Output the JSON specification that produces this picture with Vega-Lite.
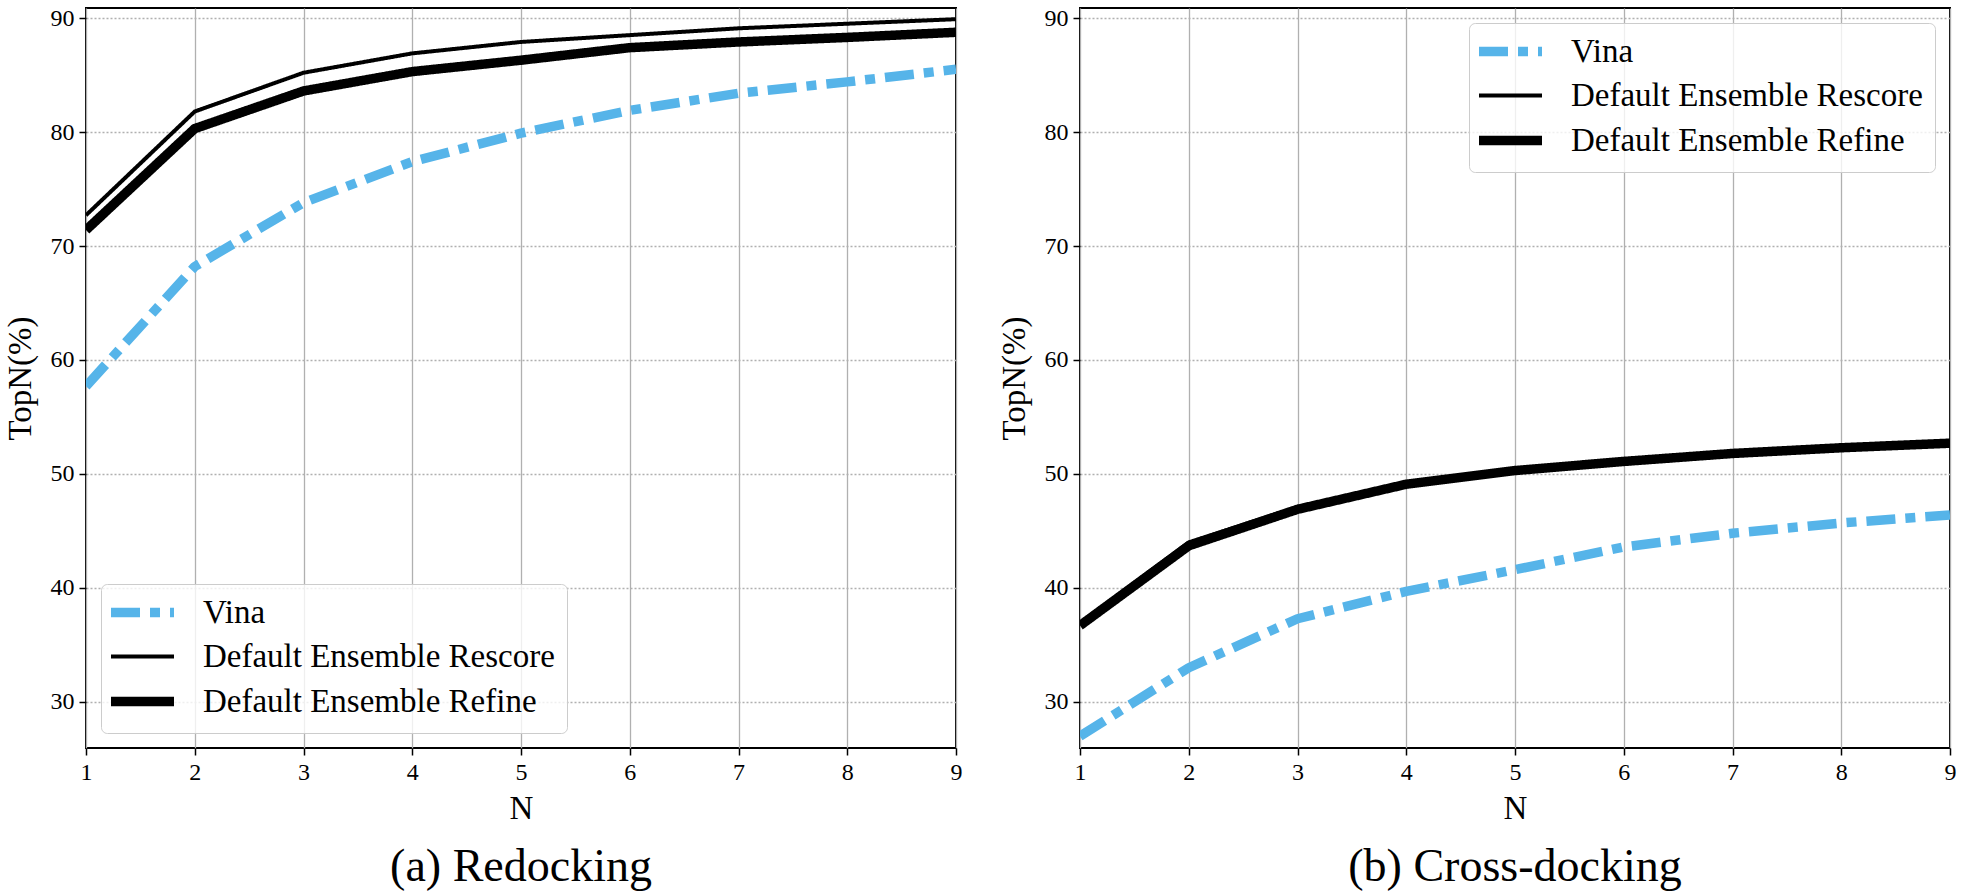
{
  "$schema": "https://vega.github.io/schema/vega-lite/v6.json",
  "padding": {"left": 3, "top": 5, "right": 10, "bottom": 0},
  "background": "white",
  "datasets": {
    "redock": [
      {"N": 1, "method": "Vina", "value": 57.7},
      {"N": 2, "method": "Vina", "value": 68.2},
      {"N": 3, "method": "Vina", "value": 73.8},
      {"N": 4, "method": "Vina", "value": 77.4},
      {"N": 5, "method": "Vina", "value": 79.9},
      {"N": 6, "method": "Vina", "value": 81.9},
      {"N": 7, "method": "Vina", "value": 83.4},
      {"N": 8, "method": "Vina", "value": 84.4},
      {"N": 9, "method": "Vina", "value": 85.5},
      {"N": 1, "method": "Default Ensemble Rescore", "value": 72.7},
      {"N": 2, "method": "Default Ensemble Rescore", "value": 81.8},
      {"N": 3, "method": "Default Ensemble Rescore", "value": 85.2},
      {"N": 4, "method": "Default Ensemble Rescore", "value": 86.9},
      {"N": 5, "method": "Default Ensemble Rescore", "value": 87.9},
      {"N": 6, "method": "Default Ensemble Rescore", "value": 88.5},
      {"N": 7, "method": "Default Ensemble Rescore", "value": 89.1},
      {"N": 8, "method": "Default Ensemble Rescore", "value": 89.5},
      {"N": 9, "method": "Default Ensemble Rescore", "value": 89.9},
      {"N": 1, "method": "Default Ensemble Refine", "value": 71.4},
      {"N": 2, "method": "Default Ensemble Refine", "value": 80.3},
      {"N": 3, "method": "Default Ensemble Refine", "value": 83.6},
      {"N": 4, "method": "Default Ensemble Refine", "value": 85.3},
      {"N": 5, "method": "Default Ensemble Refine", "value": 86.3},
      {"N": 6, "method": "Default Ensemble Refine", "value": 87.4},
      {"N": 7, "method": "Default Ensemble Refine", "value": 87.9},
      {"N": 8, "method": "Default Ensemble Refine", "value": 88.3},
      {"N": 9, "method": "Default Ensemble Refine", "value": 88.75}
    ],
    "cross": [
      {"N": 1, "method": "Vina", "value": 27.0},
      {"N": 2, "method": "Vina", "value": 33.0},
      {"N": 3, "method": "Vina", "value": 37.3},
      {"N": 4, "method": "Vina", "value": 39.7},
      {"N": 5, "method": "Vina", "value": 41.6},
      {"N": 6, "method": "Vina", "value": 43.6},
      {"N": 7, "method": "Vina", "value": 44.8},
      {"N": 8, "method": "Vina", "value": 45.7},
      {"N": 9, "method": "Vina", "value": 46.4},
      {"N": 1, "method": "Default Ensemble Rescore", "value": 36.9},
      {"N": 2, "method": "Default Ensemble Rescore", "value": 44.0},
      {"N": 3, "method": "Default Ensemble Rescore", "value": 47.1},
      {"N": 4, "method": "Default Ensemble Rescore", "value": 49.2},
      {"N": 5, "method": "Default Ensemble Rescore", "value": 50.4},
      {"N": 6, "method": "Default Ensemble Rescore", "value": 51.2},
      {"N": 7, "method": "Default Ensemble Rescore", "value": 51.9},
      {"N": 8, "method": "Default Ensemble Rescore", "value": 52.3},
      {"N": 9, "method": "Default Ensemble Rescore", "value": 52.8},
      {"N": 1, "method": "Default Ensemble Refine", "value": 36.7},
      {"N": 2, "method": "Default Ensemble Refine", "value": 43.7},
      {"N": 3, "method": "Default Ensemble Refine", "value": 46.9},
      {"N": 4, "method": "Default Ensemble Refine", "value": 49.1},
      {"N": 5, "method": "Default Ensemble Refine", "value": 50.3},
      {"N": 6, "method": "Default Ensemble Refine", "value": 51.1},
      {"N": 7, "method": "Default Ensemble Refine", "value": 51.8},
      {"N": 8, "method": "Default Ensemble Refine", "value": 52.3},
      {"N": 9, "method": "Default Ensemble Refine", "value": 52.7}
    ]
  },
  "spacing": 34,
  "hconcat": [
    {
      "width": 870,
      "height": 740,
      "data": {"name": "redock"},
      "title": {"text": "(a) Redocking", "orient": "bottom"},
      "mark": {"type": "line", "strokeCap": "butt", "strokeJoin": "round", "clip": true},
      "encoding": {
        "x": {"field": "N", "type": "quantitative", "scale": {"domain": [1, 9], "nice": false, "zero": false}, "axis": {"values": [1, 2, 3, 4, 5, 6, 7, 8, 9], "title": "N"}},
        "y": {"field": "value", "type": "quantitative", "scale": {"domain": [25.96, 90.88], "nice": false, "zero": false}, "axis": {"values": [30, 40, 50, 60, 70, 80, 90], "title": "TopN(%)"}},
        "color": {"field": "method", "type": "nominal", "scale": {"domain": ["Vina", "Default Ensemble Rescore", "Default Ensemble Refine"], "range": ["#56B4E9", "#000000", "#000000"]},
          "legend": {"orient": "bottom-left", "offset": 15,
            "encode": {"symbols": {"update": {
              "strokeWidth": {"signal": "datum.value === 'Default Ensemble Rescore' ? 4 : 9.5"},
              "strokeDash": {"signal": "datum.value === 'Vina' ? [29, 10, 10, 10] : [1, 0]"}}}}}},
        "strokeDash": {"field": "method", "type": "nominal", "scale": {"domain": ["Vina", "Default Ensemble Rescore", "Default Ensemble Refine"], "range": [[29, 10, 10, 10], [1, 0], [1, 0]]}, "legend": null},
        "strokeWidth": {"condition": {"test": "datum.method === 'Default Ensemble Rescore'", "value": 4}, "value": 9.5}
      }
    },
    {
      "width": 870,
      "height": 740,
      "data": {"name": "cross"},
      "title": {"text": "(b) Cross-docking", "orient": "bottom"},
      "mark": {"type": "line", "strokeCap": "butt", "strokeJoin": "round", "clip": true},
      "encoding": {
        "x": {"field": "N", "type": "quantitative", "scale": {"domain": [1, 9], "nice": false, "zero": false}, "axis": {"values": [1, 2, 3, 4, 5, 6, 7, 8, 9], "title": "N"}},
        "y": {"field": "value", "type": "quantitative", "scale": {"domain": [25.96, 90.88], "nice": false, "zero": false}, "axis": {"values": [30, 40, 50, 60, 70, 80, 90], "title": "TopN(%)"}},
        "color": {"field": "method", "type": "nominal", "scale": {"domain": ["Vina", "Default Ensemble Rescore", "Default Ensemble Refine"], "range": ["#56B4E9", "#000000", "#000000"]},
          "legend": {"orient": "top-right", "offset": 15,
            "encode": {"symbols": {"update": {
              "strokeWidth": {"signal": "datum.value === 'Default Ensemble Rescore' ? 4 : 9.5"},
              "strokeDash": {"signal": "datum.value === 'Vina' ? [29, 10, 10, 10] : [1, 0]"}}}}}},
        "strokeDash": {"field": "method", "type": "nominal", "scale": {"domain": ["Vina", "Default Ensemble Rescore", "Default Ensemble Refine"], "range": [[29, 10, 10, 10], [1, 0], [1, 0]]}, "legend": null},
        "strokeWidth": {"condition": {"test": "datum.method === 'Default Ensemble Rescore'", "value": 4}, "value": 9.5}
      }
    }
  ],
  "resolve": {"scale": {"color": "independent", "strokeDash": "independent"}, "legend": {"color": "independent"}},
  "config": {
    "view": {"stroke": "#000000", "strokeWidth": 2},
    "axis": {
      "labelFont": "Liberation Serif", "titleFont": "Liberation Serif",
      "labelFontSize": 24, "titleFontSize": 33, "titleFontWeight": "normal",
      "labelColor": "#000000", "titleColor": "#000000",
      "tickColor": "#000000", "tickSize": 7, "tickWidth": 1.5,
      "domain": false, "grid": true, "gridColor": "#b0b0b0", "gridWidth": 1.3,
      "labelPadding": 5, "labelFlush": false
    },
    "axisX": {"titlePadding": 8},
    "axisY": {"gridDash": [2, 2], "titlePadding": 13},
    "title": {"font": "Liberation Serif", "fontSize": 46, "fontWeight": "normal", "color": "#000000", "offset": 20, "anchor": "middle"},
    "legend": {
      "title": null, "labelFont": "Liberation Serif", "labelFontSize": 33, "labelColor": "#000000",
      "symbolType": "stroke", "symbolSize": 3969, "symbolStrokeWidth": 9.5, "symbolOffset": 13, "labelOffset": 44,
      "padding": 12, "rowPadding": 8, "fillColor": "rgba(255,255,255,0.8)", "strokeColor": "#cccccc",
      "cornerRadius": 6, "labelLimit": 1000
    }
  }
}
